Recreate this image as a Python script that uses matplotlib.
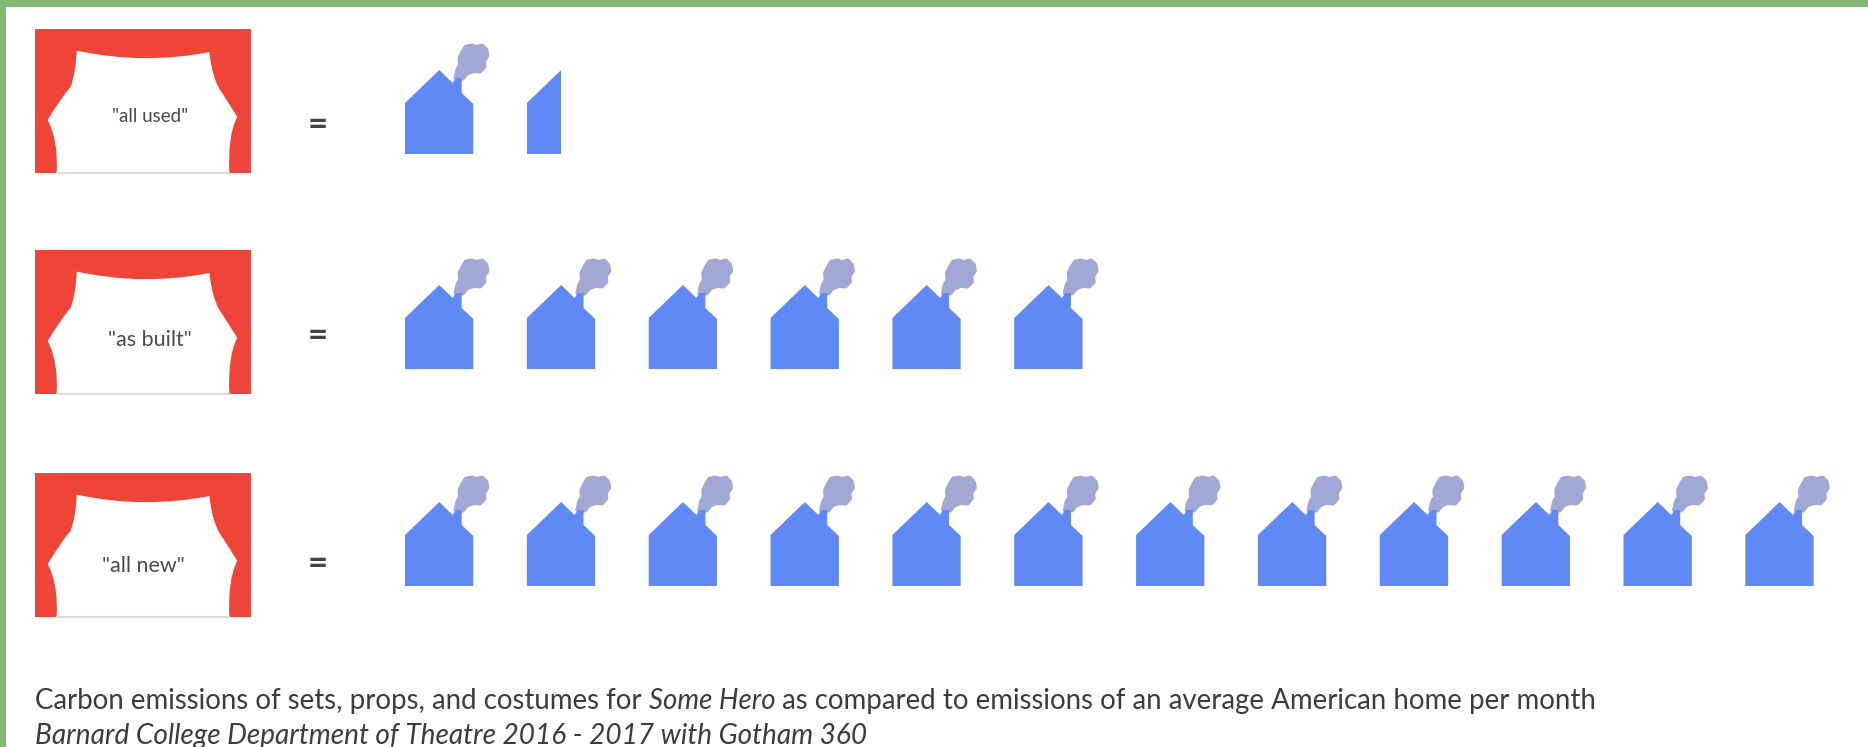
#!/usr/bin/env python3
import math
import numpy as np
import matplotlib
matplotlib.use("Agg")
import matplotlib.pyplot as plt
from matplotlib.patches import PathPatch, Polygon, Rectangle
from matplotlib.path import Path

# data: homes per month equivalent for each version of the show
scenarios = ['"all used"', '"as built"', '"all new"']
homes_equiv = [1.5, 6, 12]

caption_a = "Carbon emissions of sets, props, and costumes for "
caption_b = "Some Hero"
caption_c = " as compared to emissions of an average American home per month"
caption_2 = "Barnard College Department of Theatre 2016 - 2017 with Gotham 360"

GREEN = "#82b874"
RED = "#ef4438"
BLUE = "#6189f5"
SMOKE = "#a2a8d4"
TEXT = "#3c3c3c"
FONT = "Lato"

W, H = 1868, 747
curtain_tops = [29, 250, 473]
house_bases = [154, 369, 586]
label_xs = [150, 150, 143]
label_ys = [117, 340, 566]
label_sizes = [13.5, 15.5, 15.5]
equals_ys = [125, 336, 564]
CURTAIN_X, CURTAIN_W, CURTAIN_H = 35, 216, 144
HOUSE_X, HOUSE_PITCH = 405, 121.85

# house glyph in px from its bottom left corner
house_body = [(0, 0), (0, 51), (34.3, 84), (47.7, 71), (51, 76), (56.7, 76),
              (56.7, 61), (68.3, 50), (68.3, 0)]
house_smoke = [(51, 76), (52.8, 84), (55.5, 89), (55, 96), (58, 102), (61, 107),
               (66.7, 108), (71.7, 106.5), (77, 108), (81, 104), (82, 98.4),
               (78.5, 93), (79, 87.5), (75, 83), (68.3, 83.5), (61.7, 81), (57.7, 76)]


def curtain_path(x0, y0):
    # white opening of the stage curtain, as fractions of the red box
    pts = [(0.193, 0.15), (0.5, 0.25), (0.807, 0.16),
           (0.82, 0.33), (0.853, 0.414),
           (0.90, 0.52), (0.936, 0.61),
           (0.89, 0.75), (0.90, 1.0),
           (0.10, 1.0),
           (0.11, 0.78), (0.059, 0.632),
           (0.11, 0.50), (0.165, 0.40),
           (0.19, 0.30), (0.193, 0.15)]
    codes = [Path.MOVETO, Path.CURVE3, Path.CURVE3,
             Path.CURVE3, Path.CURVE3,
             Path.CURVE3, Path.CURVE3,
             Path.CURVE3, Path.CURVE3,
             Path.LINETO,
             Path.CURVE3, Path.CURVE3,
             Path.CURVE3, Path.CURVE3,
             Path.CURVE3, Path.CURVE3]
    verts = [(x0 + px * CURTAIN_W, y0 + py * CURTAIN_H) for px, py in pts]
    return Path(verts, codes)


def draw_house(ax, left, base, frac):
    body = np.array(house_body) * [1, -1] + [left, base]
    smoke = np.array(house_smoke) * [1, -1] + [left, base]
    p_smoke = Polygon(smoke, closed=True, fc=SMOKE, ec=SMOKE, lw=3.5, joinstyle="round", zorder=2)
    p_body = Polygon(body, closed=True, fc=BLUE, ec="none", zorder=3)
    ax.add_patch(p_smoke)
    ax.add_patch(p_body)
    if frac < 1:
        # a part of a home: keep only the left share of the glyph
        clip = Rectangle((left, base - 130), 68.3 * frac, 130, transform=ax.transData)
        p_smoke.set_clip_path(clip)
        p_body.set_clip_path(clip)


fig = plt.figure(figsize=(W / 100, H / 100), dpi=100, facecolor="white")
ax = fig.add_axes([0, 0, 1, 1])
ax.set_xlim(0, W)
ax.set_ylim(H, 0)
ax.axis("off")

# green frame on top and left
ax.add_patch(Rectangle((0, 0), W, 7, fc=GREEN, ec="none"))
ax.add_patch(Rectangle((0, 0), 6, H, fc=GREEN, ec="none"))

for i, (name, value) in enumerate(zip(scenarios, homes_equiv)):
    top = curtain_tops[i]
    ax.add_patch(Rectangle((CURTAIN_X, top), CURTAIN_W, CURTAIN_H, fc=RED, ec="none", zorder=1))
    ax.add_patch(PathPatch(curtain_path(CURTAIN_X, top), fc="white", ec="none", zorder=2))
    ax.plot([CURTAIN_X + 0.1 * CURTAIN_W, CURTAIN_X + 0.9 * CURTAIN_W], [top + CURTAIN_H] * 2,
            color="#dddddd", lw=1.5, zorder=3)
    ax.text(label_xs[i], label_ys[i], name, ha="center", va="center",
            fontsize=label_sizes[i], family=FONT, color="#4a4a4a", zorder=4)
    ax.text(318, equals_ys[i], "=", ha="center", va="center",
            fontsize=25, family=FONT, weight="bold", color="#444444")
    for k in range(math.ceil(value)):
        draw_house(ax, HOUSE_X + k * HOUSE_PITCH, house_bases[i], min(1, value - k))

# caption, with the title of the show set in italics
fig.canvas.draw()
renderer = fig.canvas.get_renderer()
x = 35
for part, style in [(caption_a, "normal"), (caption_b, "italic"), (caption_c, "normal")]:
    t = ax.text(x, 709, part, ha="left", va="baseline", fontsize=19.9, family=FONT,
                style=style, color=TEXT)
    # keep trailing spaces in the measured width
    bb = ax.text(0, 0, part.replace(" ", "\u00a0"), fontsize=19.9, family=FONT, style=style, alpha=0)
    x += bb.get_window_extent(renderer).width
    bb.remove()
ax.text(35, 744, caption_2, ha="left", va="baseline", fontsize=20.2, family=FONT,
        style="italic", color=TEXT)

fig.savefig("out.png", dpi=100)
